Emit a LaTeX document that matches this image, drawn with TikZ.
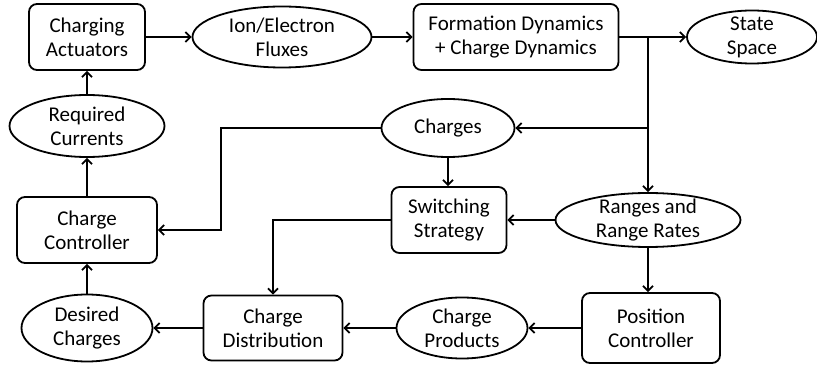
\documentclass[tikz,border=0pt]{standalone}
\usepackage{fontspec}
\setmainfont{Carlito}
\usepackage{tikz}
\usetikzlibrary{shapes.geometric, arrows.meta, positioning}

\begin{document}
\begin{tikzpicture}[x=1pt, y=1pt,
    every node/.style={font=\fontsize{21}{24}\selectfont, align=center},
    blok/.style={draw, rounded corners=8pt, line width=1.8pt, inner sep=0pt},
    oval/.style={draw, ellipse, line width=1.8pt, inner xsep=0pt, inner ysep=-6pt},
    flow/.style={-{Straight Barb[length=5pt,width=10pt]}, line width=1.8pt}]
      \useasboundingbox (0,0) rectangle (817,367);

      % Top row
      \node[blok, minimum width=116, minimum height=66] (act) at (87,330) {Charging\\Actuators};
      \node[oval, minimum width=179, minimum height=61] (flux) at (282,330) {Ion/Electron\\Fluxes};
      \node[blok, minimum width=205, minimum height=66] (dyn) at (516,330) {Formation Dynamics\\+ Charge Dynamics};
      \node[oval, minimum width=130, minimum height=53] (state) at (752,330) {State\\Space};
      \coordinate (split) at (648,330);

      % Middle rows
      \node[oval, minimum width=155, minimum height=62] (req) at (87,241) {Required\\Currents};
      \node[oval, minimum width=133, minimum height=58] (charges) at (448,239) {Charges};
      \node[blok, minimum width=140, minimum height=66] (ctrl) at (87,137) {Charge\\Controller};
      \node[blok, minimum width=115, minimum height=66] (switch) at (449,147) {Switching\\Strategy};
      \node[oval, minimum width=185, minimum height=54] (ranges) at (648,147) {Ranges and\\Range Rates};

      % Bottom row
      \node[oval, minimum width=131, minimum height=67] (desired) at (87,39) {Desired\\Charges};
      \node[blok, minimum width=139, minimum height=65] (distr) at (273,39) {Charge\\Distribution};
      \node[oval, minimum width=131, minimum height=61] (prod) at (462,39) {Charge\\Products};
      \node[blok, minimum width=138, minimum height=70] (pos) at (651,39) {Position\\Controller};

      % Connectors
      \draw[flow] (act) -- (flux);
      \draw[flow] (flux) -- (dyn);
      \draw[flow] (dyn) -- (state);
      \draw[flow] (split) -- (split |- ranges.north);
      \draw[flow] (split) |- (charges.east);
      \draw[flow] (charges.west) -- ++(-160,0) |- (ctrl.east);
      \draw[flow] (charges.south) -- (charges.south |- switch.north);
      \draw[flow] (ranges) -- (switch);
      \draw[flow] (switch.west) -| (distr.north);
      \draw[flow] (ranges.south) -- (ranges.south |- pos.north);
      \draw[flow] (pos) -- (prod);
      \draw[flow] (prod) -- (distr);
      \draw[flow] (distr) -- (desired);
      \draw[flow] (desired) -- (ctrl);
      \draw[flow] (ctrl) -- (req);
      \draw[flow] (req) -- (act);
    \end{tikzpicture}
\end{document}
